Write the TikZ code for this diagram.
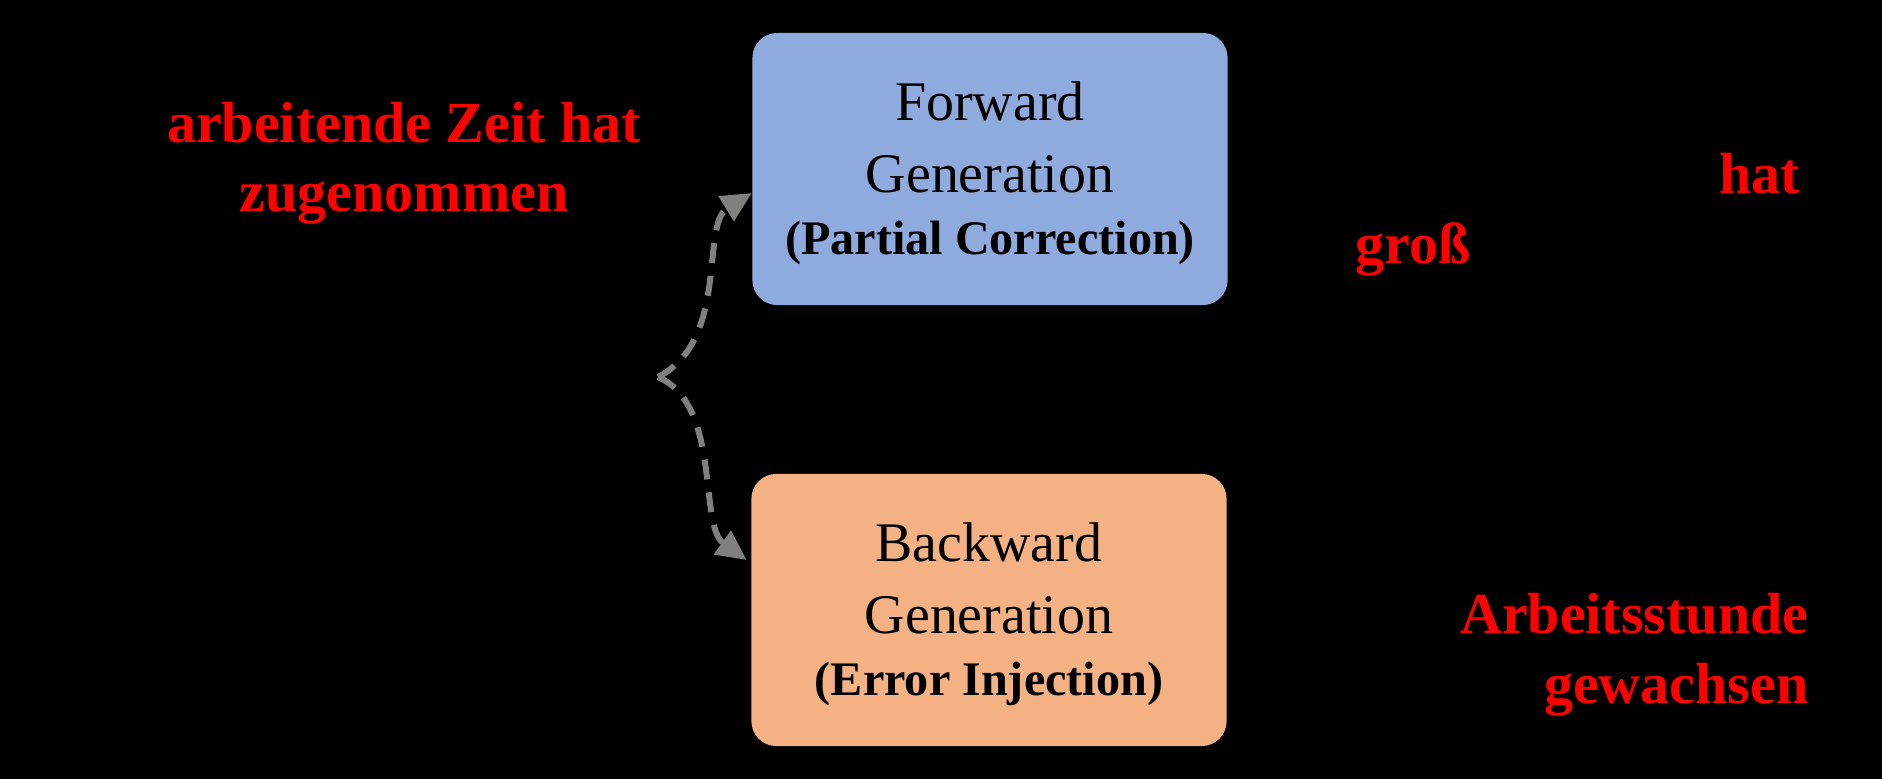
\documentclass[tikz,border=0pt]{standalone}
\usepackage{fontspec}
\setmainfont{Liberation Serif}
\usetikzlibrary{arrows.meta}
\definecolor{fwdblue}{RGB}{143,170,220}
\definecolor{bwdorange}{RGB}{244,177,131}
\definecolor{arrowgray}{RGB}{128,128,128}
\begin{document}
\begin{tikzpicture}[x=0.01cm, y=-0.01cm,
  genbox/.style={fill=#1, rounded corners=0.25cm, minimum width=4.75cm, minimum height=2.72cm, align=center, inner sep=0pt, font=\fontsize{15.9}{20.2}\selectfont},
  redlabel/.style={text=red, inner sep=0pt, font=\fontsize{16.5}{19.7}\selectfont\bfseries},
  swing/.style={draw=arrowgray, line width=1.7pt, dash pattern=on 0.2cm off 0.13cm, -{Triangle[length=0.3cm, width=0.28cm]}}]
\fill[black] (0,0) rectangle (1882,779);
\node[genbox=fwdblue] (fwd) at (990,169) {\rule{0pt}{13.7pt}Forward\\Generation\\[-2.3pt]\fontsize{13.7}{17.9}\selectfont\bfseries (Partial Correction)};
\node[genbox=bwdorange] (bwd) at (989,610) {\rule{0pt}{13.7pt}Backward\\Generation\\[-2.3pt]\fontsize{13.7}{17.9}\selectfont\bfseries (Error Injection)};
\coordinate (fork) at (658,377);
\draw[swing] (fork) .. controls (730,340) and (700,225) .. ([yshift=-0.24cm]fwd.west);
\draw[swing] (fork) .. controls (722,405) and (698,525) .. ([yshift=0.5cm,xshift=-0.04cm]bwd.west);
\node[redlabel, align=center, anchor=base] (timeup) at (404,212) {arbeitende Zeit hat\\zugenommen};
\node[redlabel, anchor=base] (hat) at (1760,194) {hat};
\node[redlabel, anchor=base] (gross) at (1413,263) {groß};
\node[redlabel, align=right, anchor=base east] (hours) at (1809,703) {Arbeitsstunde\\gewachsen};
\end{tikzpicture}
\end{document}
